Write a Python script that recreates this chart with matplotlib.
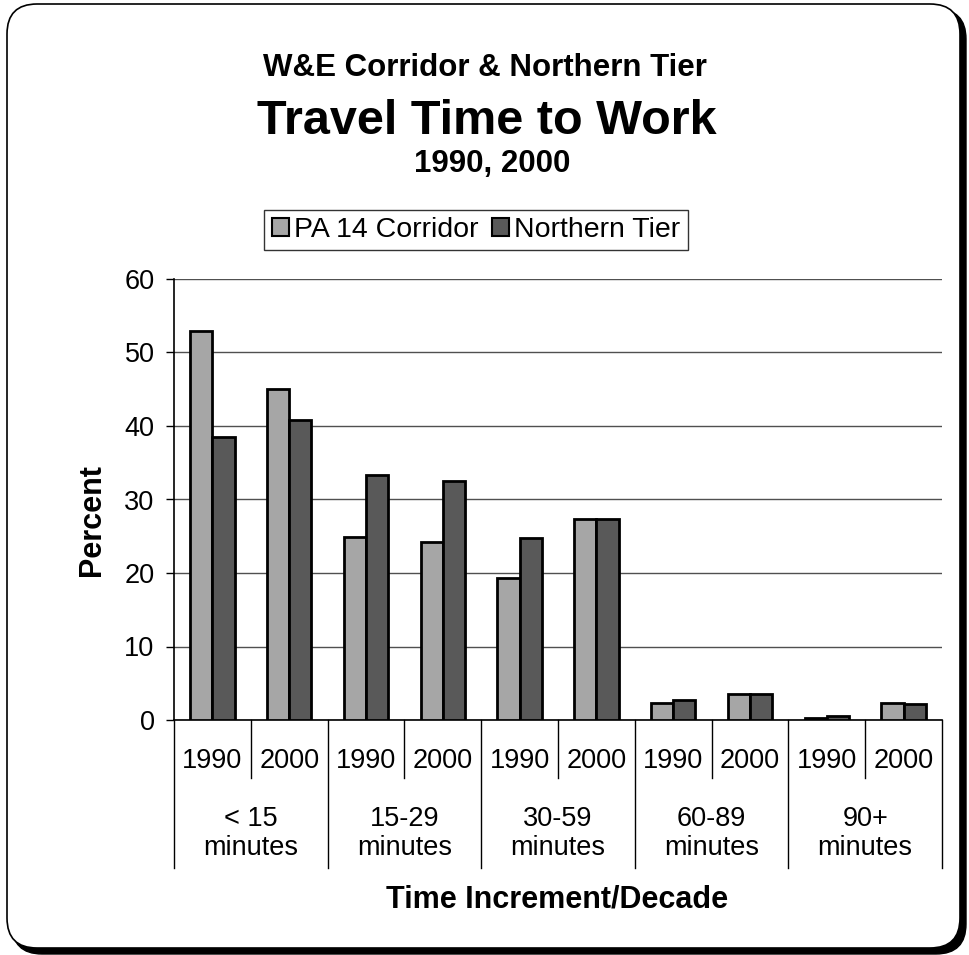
import matplotlib.pyplot as plt
import matplotlib.transforms as mtransforms
from matplotlib.patches import FancyBboxPatch, Patch
import numpy as np

plt.rcParams["font.family"] = ["Liberation Sans", "DejaVu Sans"]

# data: share of workers by commute time, 1990 and 2000
groups = ["< 15\nminutes", "15-29\nminutes", "30-59\nminutes", "60-89\nminutes", "90+\nminutes"]
years = ["1990", "2000"]
pa14 = [52.9, 45.0, 24.9, 24.2, 19.3, 27.3, 2.3, 3.5, 0.3, 2.3]
northern_tier = [38.5, 40.8, 33.4, 32.5, 24.7, 27.4, 2.7, 3.6, 0.5, 2.2]

light = "#a6a6a6"
dark = "#595959"

fig = plt.figure(figsize=(9.69, 9.55), dpi=100)

# rounded frame with a drop shadow
shadow = FancyBboxPatch((0.12, 0.01), 9.54, 9.45, boxstyle="round,pad=0,rounding_size=0.3",
                        transform=fig.dpi_scale_trans, facecolor="black", edgecolor="black",
                        zorder=-10)
frame = FancyBboxPatch((0.07, 0.07), 9.53, 9.44, boxstyle="round,pad=0,rounding_size=0.3",
                       transform=fig.dpi_scale_trans, facecolor="white", edgecolor="black",
                       linewidth=1.2, zorder=-9)
fig.add_artist(shadow)
fig.add_artist(frame)

ax = fig.add_axes([174 / 969, 235 / 955, 768 / 969, 441 / 955])
ax.patch.set_alpha(0)

x = np.arange(len(pa14))
w = 0.29
ax.bar(x - w / 2, pa14, w, color=light, edgecolor="black", linewidth=2.0, zorder=3)
ax.bar(x + w / 2, northern_tier, w, color=dark, edgecolor="black", linewidth=2.0, zorder=3)

ax.set_xlim(-0.5, len(pa14) - 0.5)
ax.set_ylim(0, 60)
ax.set_yticks(range(0, 61, 10))
ax.yaxis.grid(True, color="#505050", linewidth=1.0, zorder=0)
ax.tick_params(axis="y", labelsize=19.5, length=6, width=1, pad=8)
ax.set_xticks([])
for side in ("top", "right"):
    ax.spines[side].set_visible(False)
ax.spines["left"].set_linewidth(1.2)
ax.spines["bottom"].set_linewidth(1.2)

# two-level category axis
trans = mtransforms.blended_transform_factory(ax.transData, ax.transAxes)
short_end = -58 / 441
long_end = -148 / 441
for i in range(len(pa14)):
    ax.text(i, -41 / 441, years[i % 2], transform=trans, ha="center", va="center",
            fontsize=19.5)
for b in np.arange(-0.5, len(pa14), 1.0):
    end = long_end if round(b + 0.5) % 2 == 0 else short_end
    ax.plot([b, b], [0, end], transform=trans, color="black", linewidth=1.0, clip_on=False)
for g, label in enumerate(groups):
    ax.text(2 * g + 0.5, -113 / 441, label, transform=trans, ha="center", va="center",
            fontsize=19.5, linespacing=1.15)

fig.text(92.5 / 969, 1 - 520 / 955, "Percent", rotation=90, ha="center", va="center",
         fontsize=22, fontweight="bold")
fig.text(557 / 969, 1 - 899 / 955, "Time Increment/Decade", ha="center", va="center",
         fontsize=22, fontweight="bold")

fig.text(485 / 969, 1 - 68 / 955, "W&E Corridor & Northern Tier", ha="center", va="center",
         fontsize=22.5, fontweight="bold")
fig.text(487 / 969, 1 - 121 / 955, "Travel Time to Work", ha="center", va="center",
         fontsize=35, fontweight="bold")
fig.text(492 / 969, 1 - 164 / 955, "1990, 2000", ha="center", va="center",
         fontsize=22.5, fontweight="bold")

handles = [Patch(facecolor=light, edgecolor="black", linewidth=1.5),
           Patch(facecolor=dark, edgecolor="black", linewidth=1.5)]
leg = fig.legend(handles, ["PA 14 Corridor", "Northern Tier"], ncol=2,
                 loc="center", bbox_to_anchor=(476 / 969, 1 - 230 / 955),
                 fontsize=20.5, frameon=True, fancybox=False, edgecolor="black",
                 handlelength=0.6, handleheight=0.6, handletextpad=0.2,
                 columnspacing=0.45, borderpad=0.25, borderaxespad=0)
leg.get_frame().set_linewidth(1.0)

fig.savefig("out.png", dpi=100)
